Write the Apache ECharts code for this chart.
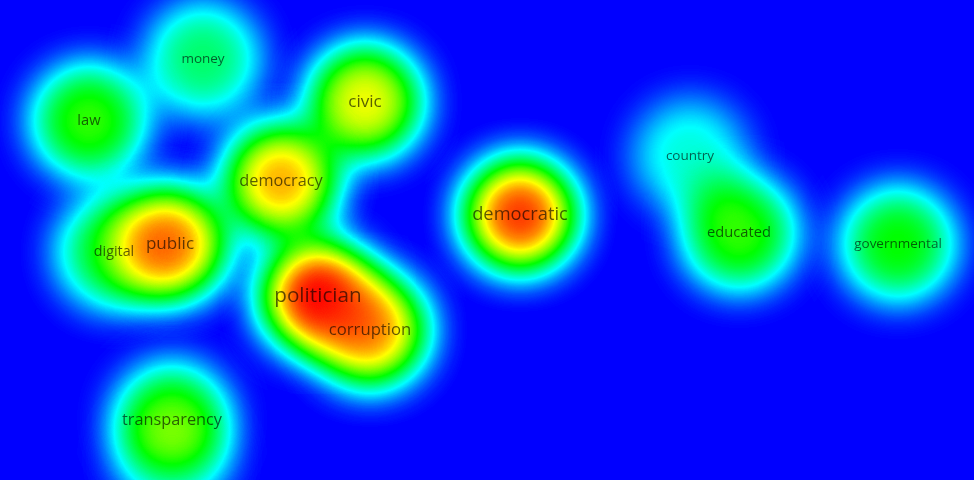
<!DOCTYPE html>
<html>
<head>
<meta charset="utf-8">
<style>
  html, body { margin: 0; padding: 0; background: #0000ff; }
  #chart { width: 974px; height: 480px; }
</style>
<script src="https://cdn.jsdelivr.net/npm/echarts@6/dist/echarts.min.js"></script>
</head>
<body>
<div id="chart"></div>
<script>
// ---- data (map units, y pointing up) ----
const terms       = ['money', 'law', 'civic', 'democracy', 'public', 'digital', 'politician', 'corruption', 'democratic', 'transparency', '', 'country', 'educated', 'governmental'];
const mapX        = [203, 89, 365, 281, 170, 114, 318, 370, 520, 172, 172, 690, 739, 898];
const mapY        = [421, 359, 378, 299, 236, 228, 184, 150, 265, 60, 22, 324, 247, 236];
const occurrences = [12, 15, 21, 19, 21, 14, 30, 20, 24, 19, 0, 12, 15, 12];
const density     = [0.40, 0.55, 0.74, 0.83, 0.88, 0.47, 1.0, 0.86, 0.95, 0.52, 0.25, 0.29, 0.55, 0.51];
const mapWidth = 974, mapHeight = 480;

echarts.registerMap('vos', {
  type: 'FeatureCollection',
  features: [{
    type: 'Feature', properties: { name: 'area' },
    geometry: { type: 'Polygon', coordinates: [[[0, 0], [mapWidth, 0], [mapWidth, mapHeight], [0, mapHeight], [0, 0]]] }
  }]
});

const heatData = terms.map((t, i) => [mapX[i], mapY[i], density[i]]);
const labelData = terms.map((t, i) => ({
  name: t,
  value: [mapX[i], mapY[i], occurrences[i]],
  label: { fontSize: 8.7 + occurrences[i] * 0.4 }
})).filter(d => d.name !== '');

const chart = echarts.init(document.getElementById('chart'), null, { renderer: 'canvas' });
chart.setOption({
  animation: false,
  backgroundColor: '#0000ff',
  geo: {
    map: 'vos', roam: false, aspectScale: 1,
    left: 0, top: 0, width: 974, height: 480,
    silent: true,
    label: { show: false },
    itemStyle: { areaColor: '#0000ff', borderWidth: 0, borderColor: 'rgba(0,0,0,0)' },
    emphasis: { disabled: true },
    select: { disabled: true }
  },
  visualMap: {
    show: false, type: 'continuous', min: 0, max: 1, seriesIndex: 0,
    inRange: { color: ['#0000ff', '#00ffff', '#00ff00', '#ffff00', '#ff0000'] }
  },
  series: [
    {
      type: 'heatmap', coordinateSystem: 'geo', geoIndex: 0,
      pointSize: 56, blurSize: 42, minOpacity: 1, maxOpacity: 1,
      data: heatData, z: 2
    },
    {
      type: 'scatter', coordinateSystem: 'geo', geoIndex: 0,
      symbolSize: 0, silent: true, z: 5,
      label: {
        show: true, position: 'inside', formatter: '{b}',
        color: 'rgba(0,0,0,0.78)', fontFamily: 'Open Sans'
      },
      data: labelData
    }
  ]
});
</script>
</body>
</html>
